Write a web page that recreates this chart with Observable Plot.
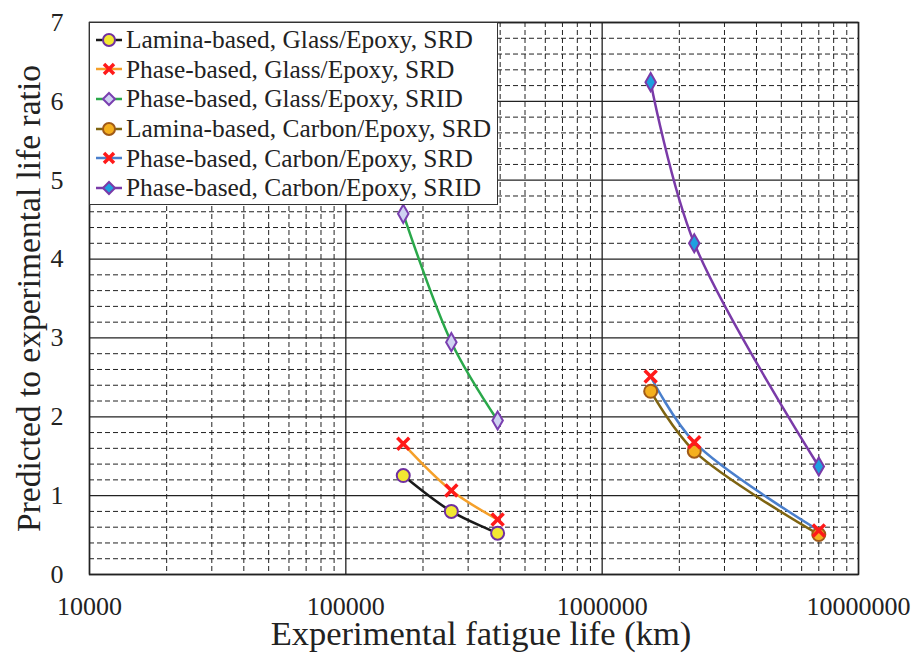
<!DOCTYPE html>
<html><head><meta charset="utf-8">
<script src="https://cdn.jsdelivr.net/npm/d3@7"></script>
<script src="https://cdn.jsdelivr.net/npm/@observablehq/plot@0.6"></script>
<style>
body{margin:0;background:#fff;font-family:'Liberation Serif',serif;}
#wrap{position:relative;width:916px;height:664px;}
#legend{position:absolute;left:89px;top:22px;width:407px;height:179px;border:1.5px solid #333;background:#fff;font-size:25.4px;color:#222;box-sizing:content-box;padding-top:2px;font-family:'Liberation Serif',serif;}
.row{height:29.6px;display:flex;align-items:center;white-space:nowrap;}
.row svg{flex:none;margin-left:4px;margin-right:2px;}
</style>
</head><body>
<div id="wrap"><div id="legend"></div></div>
<script>
// ---- data ----
const glassX = [167500, 258000, 391000];
const carbonX = [1546000, 2287000, 7000000];
const laminaGlassSRD = [1.255, 0.80, 0.524];
const phaseGlassSRD = [1.657, 1.065, 0.697];
const phaseGlassSRID = [4.574, 2.946, 1.953];
const laminaCarbonSRD = [2.324, 1.564, 0.507];
const phaseCarbonSRD = [2.511, 1.678, 0.558];
const phaseCarbonSRID = [6.243, 4.201, 1.370];
const xTicks = [10000, 100000, 1000000, 10000000];
const yTicks = [0, 1, 2, 3, 4, 5, 6, 7];
const seriesNames = [
  "Lamina-based, Glass/Epoxy, SRD",
  "Phase-based, Glass/Epoxy, SRD",
  "Phase-based, Glass/Epoxy, SRID",
  "Lamina-based, Carbon/Epoxy, SRD",
  "Phase-based, Carbon/Epoxy, SRD",
  "Phase-based, Carbon/Epoxy, SRID"
];

const styles = [
  {line:"#1a1a1a", symbol:"circle", fill:"#f2e832", stroke:"#7030a0"},
  {line:"#f5a02a", symbol:"times", fill:"none", stroke:"#ff1a1a"},
  {line:"#2aa84a", symbol:"diamond", fill:"#cfd2f2", stroke:"#7a3fb0"},
  {line:"#7f6411", symbol:"circle", fill:"#f5b01e", stroke:"#a05a18"},
  {line:"#4a7fcc", symbol:"times", fill:"none", stroke:"#ff1a1a"},
  {line:"#7a3aa8", symbol:"diamond", fill:"#1ea0e0", stroke:"#7a3aa8"}
];
const seriesX = [glassX, glassX, glassX, carbonX, carbonX, carbonX];
const seriesY = [laminaGlassSRD, phaseGlassSRD, phaseGlassSRID, laminaCarbonSRD, phaseCarbonSRD, phaseCarbonSRID];

const series = seriesNames.map((name, i) => ({
  name, ...styles[i],
  rows: seriesX[i].map((x, j) => ({x, y: seriesY[i][j]}))
}));

// grid values
const xMinor = [];
for (const d of [1e4, 1e5, 1e6]) for (let k = 2; k <= 9; k++) xMinor.push(d * k);
const yMinor = d3.range(0, 7.001, 0.2).filter(v => Math.abs(v - Math.round(v)) > 1e-6);

const FONT = "Liberation Serif";

const marks = [
  Plot.ruleY(yMinor, {stroke:"#222", strokeWidth:1, strokeDasharray:"5,3"}),
  Plot.ruleX(xMinor, {stroke:"#222", strokeWidth:1, strokeDasharray:"5,3"}),
  Plot.ruleY(yTicks, {stroke:"#222", strokeWidth:1.3}),
  Plot.ruleX(xTicks, {stroke:"#222", strokeWidth:1.3}),
];
for (const s of series) {
  marks.push(Plot.line(s.rows, {x:"x", y:"y", stroke:s.line, strokeWidth:2.5, curve:"catmull-rom"}));
}
for (const s of series) {
  if (s.symbol === "times") {
    marks.push(Plot.dot(s.rows, {x:"x", y:"y", symbol:"times", r:5.5, stroke:s.stroke, strokeWidth:3.5}));
  } else {
    marks.push(Plot.dot(s.rows, {x:"x", y:"y", symbol:s.symbol, r:s.symbol==="circle"?6.5:5.5, fill:s.fill, stroke:s.stroke, strokeWidth:2}));
  }
}
marks.push(Plot.frame({stroke:"#222", strokeWidth:1.5}));
marks.push(Plot.axisX(xTicks, {tickSize:0, tickPadding:22, tickFormat:d3.format("d"), fontSize:26, label:null}));
marks.push(Plot.axisY(yTicks, {tickSize:0, tickPadding:26, tickFormat:d3.format("d"), fontSize:26, label:null}));
marks.push(Plot.text(["Experimental fatigue life (km)"], {frameAnchor:"bottom", dy:70, dx:7, fontSize:34.5, textAnchor:"middle"}));
marks.push(Plot.text(["Predicted to experimental life ratio"], {frameAnchor:"left", dx:-60, rotate:-90, fontSize:33.5, textAnchor:"middle"}));

const chart = Plot.plot({
  width:916, height:664,
  marginLeft:89, marginRight:58, marginTop:22, marginBottom:90,
  x:{type:"log", domain:[1e4, 1e7], axis:null},
  y:{domain:[0, 7], axis:null},
  style:{fontFamily:FONT, fontSize:"26px", color:"#222", background:"#fff"},
  marks
});
document.getElementById("wrap").prepend(chart);

// legend
const leg = document.getElementById("legend");
for (const s of series) {
  const row = document.createElement("div");
  row.className = "row";
  let sym;
  if (s.symbol === "circle") sym = `<circle cx="15" cy="10" r="6" fill="${s.fill}" stroke="${s.stroke}" stroke-width="2"/>`;
  else if (s.symbol === "diamond") sym = `<path d="M15,4 L21,10 L15,16 L9,10 Z" fill="${s.fill}" stroke="${s.stroke}" stroke-width="2"/>`;
  else sym = `<path d="M10,5 L20,15 M20,5 L10,15" stroke="${s.stroke}" stroke-width="3.5"/>`;
  row.innerHTML = `<svg width="30" height="20"><line x1="2" x2="28" y1="10" y2="10" stroke="${s.line}" stroke-width="2.5"/>${sym}</svg><span>${s.name}</span>`;
  leg.appendChild(row);
}
</script>
</body></html>
